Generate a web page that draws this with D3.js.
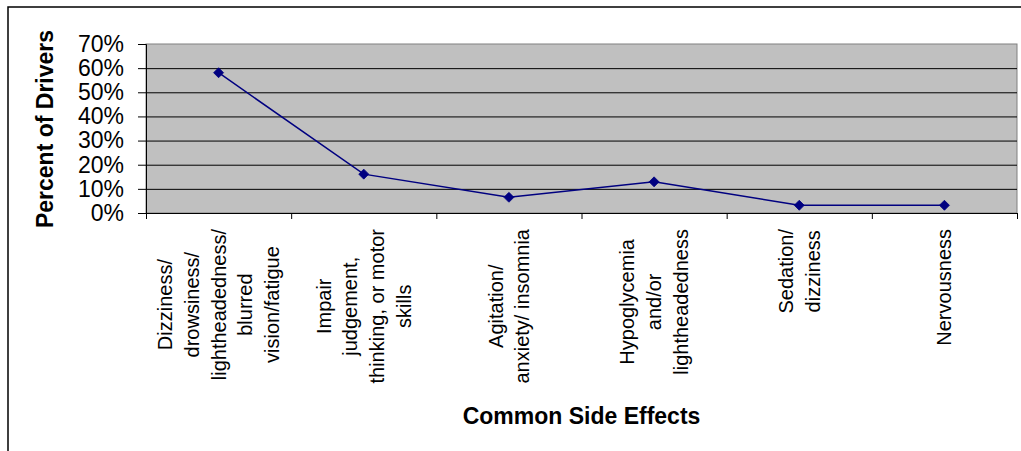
<!DOCTYPE html>
<html>
<head>
<meta charset="utf-8">
<script src="https://cdn.jsdelivr.net/npm/d3@7/dist/d3.min.js"></script>
<style>
  body { margin: 0; background: #fff; }
  text { font-family: "Liberation Sans", Arial, sans-serif; }
</style>
</head>
<body>
<div id="chart"></div>
<script>
// data
const categories = [
    ["Dizziness/", "drowsiness/", "lightheadedness/", "blurred", "vision/fatigue"],
    ["Impair", "judgement,", "thinking, or motor", "skills"],
    ["Agitation/", "anxiety/ insomnia"],
    ["Hypoglycemia", "and/or", "lightheadedness"],
    ["Sedation/", "dizziness"],
    ["Nervousness"]
];
const percentDrivers = [58.1, 16.1, 6.5, 12.9, 3.2, 3.2];
const yTicks = [0, 10, 20, 30, 40, 50, 60, 70];
const yTitle = "Percent of Drivers";
const xTitle = "Common Side Effects";

const W = 1021, H = 451;
const plot = {left: 146, right: 1017, top: 44, bottom: 213};

const svg = d3.select("#chart").append("svg")
    .attr("width", W)
    .attr("height", H);

// outer chart frame (runs off the page at right and bottom)
svg.append("rect")
    .attr("x", 8).attr("y", 7)
    .attr("width", 1100).attr("height", 600)
    .attr("fill", "#fff")
    .attr("stroke", "#000")
    .attr("stroke-width", 1.5);

const x = d3.scaleBand()
    .domain(d3.range(categories.length))
    .range([plot.left, plot.right])
    .padding(0);

// edges between the categories, for the tick marks
const xEdge = d3.scaleLinear()
    .domain([0, categories.length])
    .range([plot.left, plot.right]);

const y = d3.scaleLinear()
    .domain([0, 70])
    .range([plot.bottom, plot.top]);

// plot area
svg.append("rect")
    .attr("x", plot.left).attr("y", plot.top)
    .attr("width", plot.right - plot.left)
    .attr("height", plot.bottom - plot.top)
    .attr("fill", "#c0c0c0")
    .attr("stroke", "#808080")
    .attr("stroke-width", 1);

// gridlines
const grid = svg.append("g")
    .attr("transform", "translate(" + plot.left + ",0)")
    .call(d3.axisLeft(y).tickValues(yTicks.slice(1, -1)).tickSize(-(plot.right - plot.left)).tickFormat(""));
grid.select(".domain").remove();
grid.selectAll("line").attr("stroke", "#000").attr("stroke-width", 1);

// y axis
const yAxis = svg.append("g")
    .attr("transform", "translate(" + plot.left + ",0)")
    .call(d3.axisLeft(y).tickValues(yTicks).tickSize(8).tickPadding(14).tickFormat(d => d + "%"));
yAxis.select(".domain").attr("stroke", "#000");
yAxis.selectAll("line").attr("stroke", "#000");
yAxis.selectAll("text")
    .attr("fill", "#000")
    .style("font-size", "23px")
    .style("font-family", "'Liberation Sans', Arial, sans-serif");

// x axis (ticks between categories)
const xAxis = svg.append("g")
    .attr("transform", "translate(0," + plot.bottom + ")")
    .call(d3.axisBottom(xEdge).tickValues(d3.range(categories.length + 1)).tickSize(6).tickFormat(""));
xAxis.select(".domain").attr("stroke", "#000");
xAxis.selectAll("line").attr("stroke", "#000");

// category labels, rotated, lines centred, block hanging from the axis
const lineGap = 26.6;
const labelTop = 229;
categories.forEach(function (lines, i) {
    const g = svg.append("g")
        .attr("transform", "translate(" + (x(i) + x.bandwidth() / 2) + "," + labelTop + ") rotate(-90)");
    const t = g.selectAll("text")
        .data(lines)
        .enter().append("text")
        .attr("text-anchor", "middle")
        .attr("dy", "0.35em")
        .attr("y", (d, j) => (j - (lines.length - 1) / 2) * lineGap)
        .style("font-size", "20px")
        .attr("fill", "#000")
        .text(d => d);
    let maxW = 0;
    t.each(function () { maxW = Math.max(maxW, this.getComputedTextLength()); });
    t.attr("x", -maxW / 2);
});

// line + markers
const line = d3.line()
    .x((d, i) => x(i) + x.bandwidth() / 2)
    .y(d => y(d));

svg.append("path")
    .datum(percentDrivers)
    .attr("fill", "none")
    .attr("stroke", "#000080")
    .attr("stroke-width", 1.5)
    .attr("d", line);

svg.selectAll(".dot")
    .data(percentDrivers)
    .enter().append("path")
    .attr("class", "dot")
    .attr("transform", (d, i) => "translate(" + (x(i) + x.bandwidth() / 2) + "," + y(d) + ")")
    .attr("d", "M0,-5L5,0L0,5L-5,0Z")
    .attr("fill", "#000080")
    .attr("stroke", "#000080")
    .attr("stroke-width", 0.8);

// axis titles
svg.append("text")
    .attr("transform", "translate(45,129) rotate(-90)")
    .attr("text-anchor", "middle")
    .attr("dy", "0.36em")
    .style("font-size", "23px")
    .style("font-weight", "bold")
    .text(yTitle);

svg.append("text")
    .attr("x", (plot.left + plot.right) / 2)
    .attr("y", 424)
    .attr("text-anchor", "middle")
    .style("font-size", "23px")
    .style("font-weight", "bold")
    .text(xTitle);
</script>
</body>
</html>
